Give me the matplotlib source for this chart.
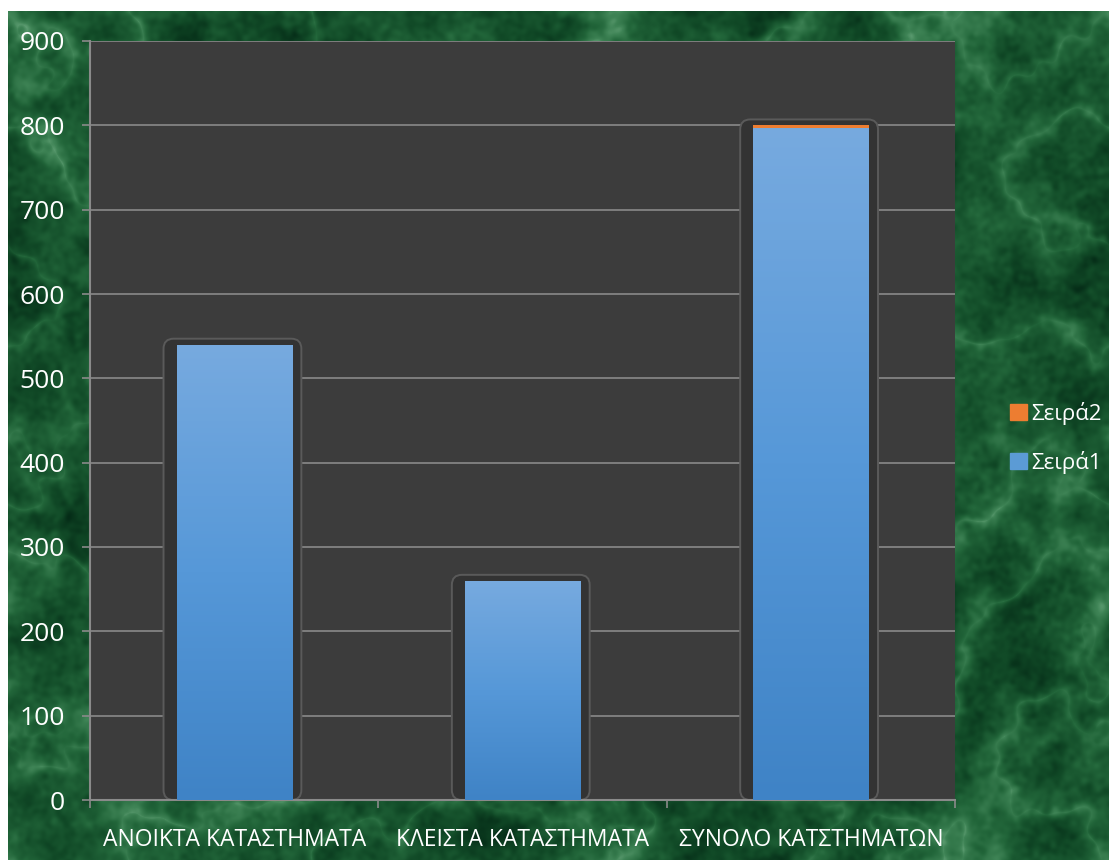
import matplotlib
matplotlib.use("Agg")
import matplotlib.pyplot as plt
import numpy as np
from matplotlib.patches import FancyBboxPatch, Patch
from matplotlib.colors import LinearSegmentedColormap

# data
categories = ["ΑΝΟΙΚΤΑ ΚΑΤΑΣΤΗΜΑΤΑ", "ΚΛΕΙΣΤΑ ΚΑΤΑΣΤΗΜΑΤΑ", "ΣΥΝΟΛΟ ΚΑΤΣΤΗΜΑΤΩΝ"]
series1 = [540, 260, 797]
series2 = [0, 0, 3]
series_names = ["Σειρά1", "Σειρά2"]
yticks = [0, 100, 200, 300, 400, 500, 600, 700, 800, 900]

plt.rcParams['font.family'] = ['Open Sans', 'DejaVu Sans']

W, H = 1109, 860
fig = plt.figure(figsize=(W / 100, H / 100), dpi=100)
fig.patch.set_facecolor("white")

# green marble-ish background (decoration only)
bg = fig.add_axes([8 / W, 0, 1 - 8 / W, 1 - 11 / H])
bg.set_axis_off()
rng = np.random.default_rng(3)
ny, nx = 849, 1101
ky = np.fft.fftfreq(ny)[:, None]
kx = np.fft.fftfreq(nx)[None, :]


def smooth_noise(scale):
    f = np.fft.fft2(rng.standard_normal((ny, nx)))
    filt = np.exp(-(kx ** 2 + ky ** 2) * (scale ** 2) * 20)
    s = np.real(np.fft.ifft2(f * filt))
    return (s - s.mean()) / s.std()


base = 0.5 * smooth_noise(35) + 0.4 * smooth_noise(10) + 0.3 * smooth_noise(2.5)
veins = 1 - np.abs(smooth_noise(30) + 0.3 * smooth_noise(8)) / 1.5
veins = np.clip(veins, 0, 1) ** 3
tex = 0.7 * (base - base.min()) / (base.max() - base.min()) + 0.3 * veins
tex = (tex - tex.min()) / (tex.max() - tex.min())
green = LinearSegmentedColormap.from_list(
    "marble", ["#052c17", "#114a27", "#22663a", "#3f8456", "#7cb58e"])
bg.imshow(tex, cmap=green, aspect="auto", interpolation="bilinear")

# main axes
ax = fig.add_axes([90 / W, 1 - 800 / H, (955 - 90) / W, (800 - 41) / H])
ax.set_facecolor("#3c3c3c")
x = np.arange(len(categories))
width = 0.40

ax.set_ylim(0, 900)
ax.set_yticks(yticks)
ax.yaxis.grid(True, color="#8a8a8a", linewidth=1.2, zorder=0)
ax.set_axisbelow(True)

# shadow frames around bars
totals = [a + b for a, b in zip(series1, series2)]
aspect = (900 / 759) / (3 / 865)
for xi, t in zip(x, totals):
    fr = FancyBboxPatch((xi - 0.245, 0), 0.478, t + 7,
                        boxstyle="round,pad=0,rounding_size=0.035",
                        mutation_aspect=aspect,
                        facecolor="#333333", edgecolor="#5a5a5a",
                        linewidth=1.4, zorder=2)
    ax.add_patch(fr)

bars1 = ax.bar(x, series1, width, color="#5b9bd5", zorder=3, label=series_names[0])
bars2 = ax.bar(x, series2, width, bottom=series1, color="#ed7d31", zorder=3,
               label=series_names[1])

# vertical gradient on blue bars
grad = np.linspace(0, 1, 256)[:, None]
blue = LinearSegmentedColormap.from_list("bl", ["#3f83c6", "#5698d8", "#77aadf"])
for b in bars1:
    im = ax.imshow(grad, cmap=blue, aspect="auto", origin="lower",
                   extent=[b.get_x(), b.get_x() + b.get_width(), 0, b.get_height()],
                   zorder=3.5)
    im.set_clip_path(b)
ax.set_xlim(-0.5, len(categories) - 0.5)
ax.set_ylim(0, 900)

# axes styling
for s in ["top", "right"]:
    ax.spines[s].set_visible(False)
for s in ["left", "bottom"]:
    ax.spines[s].set_color("#8a8a8a")
    ax.spines[s].set_linewidth(1.5)

ax.tick_params(axis="y", colors="#8a8a8a", length=6, width=1.2, labelcolor="white",
               labelsize=19, pad=12)
ax.set_xticks(x)
ax.set_xticklabels(categories)
ax.tick_params(axis="x", which="major", length=0, labelcolor="white",
               labelsize=16.5, pad=20)
ax.set_xticks(np.arange(-0.5, len(categories)), minor=True)
ax.tick_params(axis="x", which="minor", length=6, width=1.2, colors="#8a8a8a")

handles = [Patch(color="#ed7d31", label=series_names[1]),
           Patch(color="#5b9bd5", label=series_names[0])]
leg = fig.legend(handles=handles, loc="center left", bbox_to_anchor=(0.893, 0.491),
                 frameon=False, fontsize=16, labelcolor="white",
                 handlelength=0.75, handleheight=0.75, handletextpad=0.2,
                 labelspacing=1.15)

fig.savefig("out.png", dpi=100)
